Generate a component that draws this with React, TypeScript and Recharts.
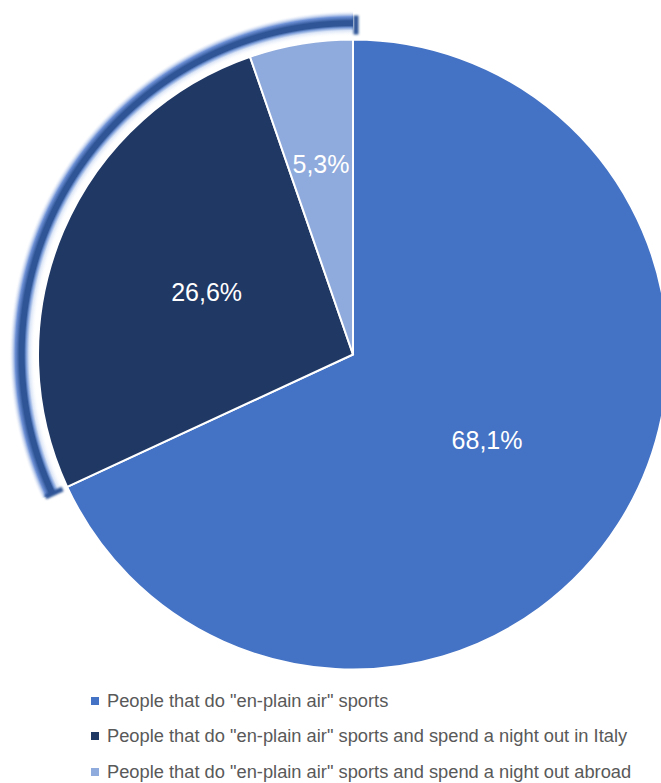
import React from "react";
import { PieChart, Pie, Cell, Legend } from "recharts";

// Share of respondents per group (percent)
const categories = [
  'People that do "en-plain air" sports',
  'People that do "en-plain air" sports and spend a night out in Italy',
  'People that do "en-plain air" sports and spend a night out abroad',
];
const shares = [68.1, 26.6, 5.3];
const valueLabels = ["68,1%", "26,6%", "5,3%"];
const colors = ["#4472C4", "#203864", "#8FAADC"];

const W = 661;
const H = 783;
const CX = 353;
const CY = 354.5;
const R = 315;

const data = categories.map((name, i) => ({ name, value: shares[i], label: valueLabels[i] }));

// Outline band around the two "night out" groups
const ringData = [
  { name: "rest", value: shares[0] },
  { name: "nightOut", value: shares[1] + shares[2] },
];

const RAD = Math.PI / 180;

const renderValueLabel = (props: any) => {
  const { cx, cy, midAngle, outerRadius, percent, index } = props;
  const r = outerRadius * (percent < 0.1 ? 0.613 : 0.505);
  const x = cx + r * Math.cos(-midAngle * RAD);
  const y = cy + r * Math.sin(-midAngle * RAD);
  return (
    <text
      x={x}
      y={y}
      fill="#FFFFFF"
      textAnchor="middle"
      dominantBaseline="central"
      fontFamily="'Liberation Sans', Arial, sans-serif"
      fontSize={25}
    >
      {data[index].label}
    </text>
  );
};

// End caps of the outline band at the sector's start / end angles
const renderRingCaps = (props: any) => {
  const { cx, cy, startAngle, endAngle } = props;
  const name = props.payload?.name ?? props.name;
  if (name !== "nightOut") return <g />;
  const cap = (angle: number, push: number, key: string) => {
    const a = -angle * RAD;
    const ux = Math.cos(a);
    const uy = Math.sin(a);
    const tx = -uy;
    const ty = ux;
    const r1 = 320;
    const r2 = 339;
    return (
      <line
        key={key}
        x1={cx + r1 * ux + tx * push}
        y1={cy + r1 * uy + ty * push}
        x2={cx + r2 * ux + tx * push}
        y2={cy + r2 * uy + ty * push}
        stroke="#2F5597"
        strokeWidth={5}
        strokeLinecap="butt"
        filter="url(#ringSoft)"
      />
    );
  };
  return (
    <g>
      {cap(startAngle, 0, "s")}
      {cap(endAngle, 3, "e")}
    </g>
  );
};

const LegendRows = () => (
  <div style={{ fontFamily: "'Liberation Sans', Arial, sans-serif", color: "#595959" }}>
    {categories.map((name, i) => (
      <div
        key={name}
        style={{ display: "flex", alignItems: "center", height: 35.5, whiteSpace: "nowrap" }}
      >
        <span
          style={{
            display: "inline-block",
            width: 8,
            height: 8,
            background: colors[i],
            marginRight: 8,
          }}
        />
        <span style={{ fontSize: 18.3 }}>{name}</span>
      </div>
    ))}
  </div>
);

export default function App() {
  return (
    <div style={{ position: "absolute", left: 0, top: 0, width: W, height: H, overflow: "hidden", background: "#FFFFFF" }}>
      <svg width={0} height={0} style={{ position: "absolute" }}>
        <defs>
          <radialGradient id="ringGrad" gradientUnits="userSpaceOnUse" cx={CX} cy={CY} r={344}>
            <stop offset="0.925" stopColor="#FFFFFF" stopOpacity={0} />
            <stop offset="0.942" stopColor="#DCE6F7" stopOpacity={1} />
            <stop offset="0.950" stopColor="#7E9FDA" />
            <stop offset="0.956" stopColor="#2F5597" />
            <stop offset="0.970" stopColor="#2F5597" />
            <stop offset="0.982" stopColor="#6F92D6" />
            <stop offset="1" stopColor="#FFFFFF" stopOpacity={0} />
          </radialGradient>
          <filter id="ringSoft" filterUnits="userSpaceOnUse" x="0" y="0" width={W} height={H}>
            <feGaussianBlur stdDeviation="0.9" />
          </filter>
        </defs>
      </svg>
      <PieChart width={W} height={H} margin={{ top: 0, right: 0, bottom: 0, left: 0 }}>
        <Pie
          data={ringData}
          dataKey="value"
          nameKey="name"
          cx={CX}
          cy={CY}
          innerRadius={318}
          outerRadius={344}
          startAngle={90}
          endAngle={-270}
          stroke="none"
          legendType="none"
          label={renderRingCaps}
          labelLine={false}
          isAnimationActive={false}
        >
          <Cell fill="none" />
          <Cell fill="url(#ringGrad)" />
        </Pie>
        <Pie
          data={data}
          dataKey="value"
          nameKey="name"
          cx={CX}
          cy={CY}
          outerRadius={R}
          startAngle={90}
          endAngle={-270}
          stroke="#FFFFFF"
          strokeWidth={2}
          label={renderValueLabel}
          labelLine={false}
          isAnimationActive={false}
        >
          {data.map((d, i) => (
            <Cell key={d.name} fill={colors[i]} />
          ))}
        </Pie>
        <Legend
          verticalAlign="bottom"
          content={() => <LegendRows />}
          wrapperStyle={{ top: 683, left: 91, bottom: "auto", width: 570 }}
        />
      </PieChart>
    </div>
  );
}
